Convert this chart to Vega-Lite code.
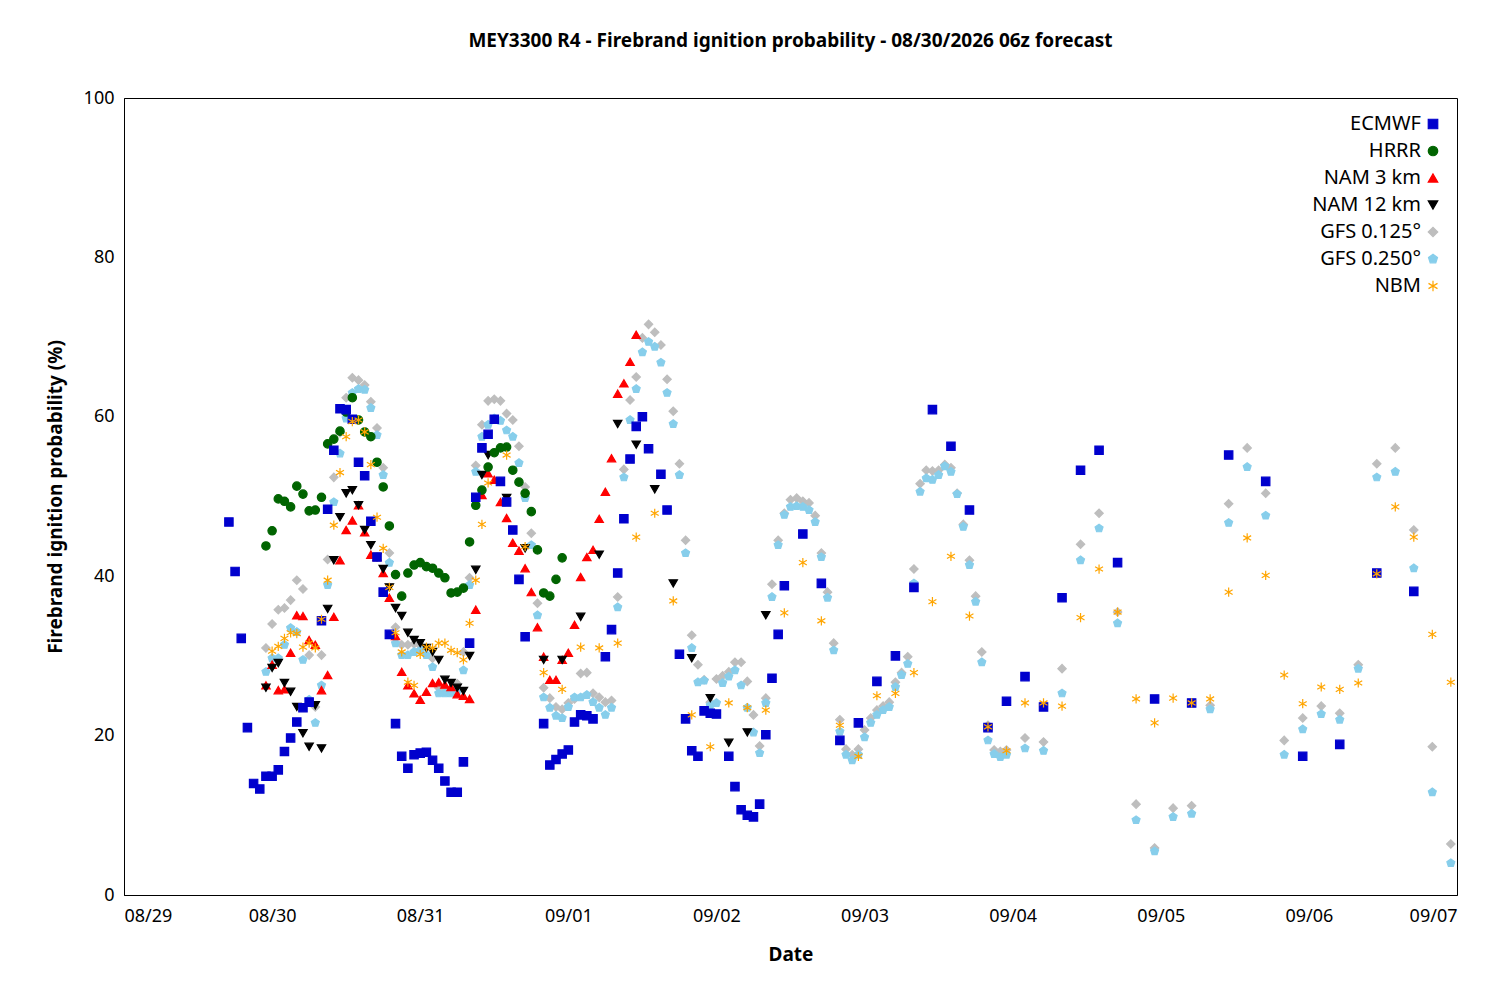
{
"$schema":"https://vega.github.io/schema/vega-lite/v6.json",
"autosize":"none","width":1333,"height":797,
"padding":{"left":124,"top":98,"right":43,"bottom":105},
"background":"white",
"config":{"font":"Noto Sans","view":{"stroke":"black","strokeWidth":1}},
"title":{"text":"MEY3300 R4 - Firebrand ignition probability - 08/30/2026 06z forecast","fontSize":19,"fontWeight":"bold","font":"Noto Sans","offset":38,"color":"black","anchor":"middle","frame":"group"},
"data":{"values":[
{"m":"GFS 0.125°","p":[[23,31],[24,34],[25,35.8],[26,36],[27,37],[28,39.5],[29,38.4],[30,30.1],[31,23.6],[32,30.1],[33,42.1],[34,52.4],[35,58],[36,62.4],[37,64.9],[38,64.6],[39,64],[40,61.9],[41,58.6],[42,53.6],[43,42.9],[44,33.6],[45,31.4],[46,31.4],[47,31.5],[48,31.3],[49,31],[50,29.7],[51,26],[52,25.8],[53,25.8],[54,26.5],[55,30.5],[56,39.8],[57,53.9],[58,59],[59,62],[60,62.2],[61,62],[62,60.4],[63,59.6],[64,56.3],[65,51.2],[66,45.4],[67,36.6],[68,26],[69,24.7],[70,23.6],[71,23.3],[72,24.1],[73,24.6],[74,27.8],[75,27.9],[76,25.3],[77,24.8],[78,24.2],[79,24.4],[80,37.4],[81,53.4],[82,62.1],[83,65],[84,69.9],[85,71.6],[86,70.6],[87,69],[88,64.7],[89,60.7],[90,54.1],[91,44.5],[92,32.6],[93,28.9],[94,27],[95,24.2],[96,27.1],[97,27.5],[98,28],[99,29.2],[100,29.2],[101,26.8],[102,22.6],[103,18.7],[104,24.7],[105,39],[106,44.5],[107,47.9],[108,49.6],[109,49.8],[110,49.4],[111,49.2],[112,47.6],[113,42.9],[114,38],[115,31.6],[116,22],[117,18.3],[118,17.6],[119,18.3],[120,20.7],[121,22.2],[122,23.2],[123,23.7],[124,24.2],[125,26.7],[126,27.9],[127,29.9],[128,40.9],[129,51.6],[130,53.3],[131,53.2],[132,53.3],[133,54],[134,53.6],[135,50.4],[136,46.5],[137,42],[138,37.5],[139,30.5],[140,21.3],[141,18.2],[142,18],[143,18.2],[146,19.7],[149,19.2],[152,28.4],[155,44],[158,47.9],[161,35.5],[164,11.4],[167,5.9],[170,10.9],[173,11.2],[176,23.8],[179,49.1],[182,56.1],[185,50.4],[188,19.4],[191,22.2],[194,23.7],[197,22.8],[200,28.9],[203,54.1],[206,56.1],[209,45.8],[212,18.6],[215,6.4]]},
{"m":"GFS 0.250°","p":[[23,28],[24,29.7],[25,29.7],[26,31.4],[27,33.5],[28,33],[29,29.5],[30,24.5],[31,21.6],[32,26.3],[33,38.9],[34,49.3],[35,55.4],[36,59.8],[37,63],[38,63.5],[39,63.4],[40,61.1],[41,57.7],[42,52.7],[43,41.7],[44,31.6],[45,30.1],[46,30.1],[47,30.5],[48,30.7],[49,30.1],[50,28.6],[51,25.3],[52,25.3],[53,25.3],[54,25.6],[55,28.2],[56,38.9],[57,53.1],[58,57.5],[59,59],[60,59.8],[61,59.5],[62,58.3],[63,57.5],[64,54.2],[65,49.8],[66,43.9],[67,35.1],[68,24.8],[69,23.5],[70,22.5],[71,22.2],[72,23.6],[73,24.8],[74,24.8],[75,25.1],[76,24.2],[77,23.5],[78,22.6],[79,23.5],[80,36.1],[81,52.4],[82,59.6],[83,63.5],[84,68.1],[85,69.4],[86,68.8],[87,66.8],[88,63],[89,59.1],[90,52.7],[91,42.9],[92,31],[93,26.7],[94,26.9],[95,23.8],[96,24.1],[97,26.6],[98,27.4],[99,28.2],[100,26.3],[101,23.5],[102,20.4],[103,17.8],[104,24.1],[105,37.4],[106,43.9],[107,47.7],[108,48.7],[109,48.8],[110,48.7],[111,48.3],[112,46.8],[113,42.4],[114,37.3],[115,30.7],[116,20.5],[117,17.6],[118,16.9],[119,17.6],[120,19.8],[121,21.6],[122,22.6],[123,23.2],[124,23.6],[125,26.1],[126,27.6],[127,29],[128,39.1],[129,50.6],[130,52.3],[131,52.1],[132,52.7],[133,53.8],[134,53.1],[135,50.3],[136,46.2],[137,41.4],[138,36.8],[139,29.2],[140,19.4],[141,17.7],[142,17.3],[143,17.6],[146,18.4],[149,18.1],[152,25.3],[155,42],[158,46],[161,34.1],[164,9.4],[167,5.5],[170,9.8],[173,10.2],[176,23.3],[179,46.7],[182,53.7],[185,47.6],[188,17.6],[191,20.8],[194,22.7],[197,22],[200,28.4],[203,52.4],[206,53.1],[209,41],[212,12.9],[215,4]]},
{"m":"NAM 3 km","p":[[23,26.3],[24,28.9],[25,25.7],[26,25.8],[27,30.4],[28,35.1],[29,35],[30,32],[31,31.4],[32,25.7],[33,27.6],[34,34.9],[35,42],[36,45.8],[37,47],[38,48.9],[39,45.5],[40,42.7],[41,42.4],[42,40.4],[43,37.3],[44,32.5],[45,28],[46,26.3],[47,25.3],[48,24.5],[49,25.5],[50,26.6],[51,26.7],[52,26.4],[53,26.1],[54,25.2],[55,25],[56,24.6],[57,35.8],[58,50.2],[59,52.9],[60,52.1],[61,49.3],[62,47.3],[63,44.2],[64,43.2],[65,41],[66,38],[67,33.6],[68,29.9],[69,27],[70,27],[71,29.5],[72,30.4],[73,33.9],[74,39.9],[75,42.4],[76,43.3],[77,47.2],[78,50.6],[79,54.8],[80,62.9],[81,64.2],[82,66.9],[83,70.3]]},
{"m":"NAM 12 km","p":[[23,26],[24,28.5],[25,29.1],[26,26.6],[27,25.5],[28,23.6],[29,20.3],[30,18.6],[31,23.8],[32,18.4],[33,35.9],[34,42],[35,47.4],[36,50.4],[37,50.8],[38,48.9],[39,45.8],[40,43.9],[41,42.4],[42,40.9],[43,38.6],[44,36],[45,35],[46,32.9],[47,32],[48,31.6],[49,31],[50,30.5],[51,29.5],[52,27],[53,26.6],[54,26],[55,25.6],[56,30],[57,40.8],[58,52.7],[59,55.2],[62,49.8],[65,43.5],[68,29.5],[71,29.5],[74,34.9],[77,42.7],[80,59.1],[83,56.5],[86,50.9],[89,39.1],[92,29.7],[95,24.7],[98,19.1],[101,20.4],[104,35.1]]},
{"m":"HRRR","p":[[23,43.8],[24,45.7],[25,49.7],[26,49.4],[27,48.7],[28,51.3],[29,50.3],[30,48.2],[31,48.3],[32,49.9],[33,56.6],[34,57.2],[35,58.2],[36,60.6],[37,62.4],[38,59.6],[39,58.1],[40,57.5],[41,54.3],[42,51.2],[43,46.3],[44,40.2],[45,37.5],[46,40.4],[47,41.4],[48,41.7],[49,41.2],[50,41],[51,40.4],[52,39.8],[53,37.9],[54,38],[55,38.5],[56,44.3],[57,48.9],[58,50.8],[59,53.7],[60,55.5],[61,56.1],[62,56.2],[63,53.3],[64,51.8],[65,50.4],[66,48.1],[67,43.3],[68,37.9],[69,37.5],[70,39.6],[71,42.3]]},
{"m":"ECMWF","p":[[17,46.8],[18,40.6],[19,32.2],[20,21],[21,14],[22,13.3],[23,14.9],[24,14.9],[25,15.7],[26,18],[27,19.7],[28,21.7],[29,23.5],[30,24.2],[32,34.4],[33,48.4],[34,55.8],[35,61],[36,60.9],[37,59.7],[38,54.3],[39,52.6],[40,46.9],[41,42.4],[42,38],[43,32.7],[44,21.5],[45,17.4],[46,15.9],[47,17.6],[48,17.8],[49,17.9],[50,16.9],[51,15.9],[52,14.3],[53,12.9],[54,12.9],[55,16.7],[56,31.6],[57,49.9],[58,56.1],[59,57.8],[60,59.7],[61,51.9],[62,49.3],[63,45.8],[64,39.6],[65,32.4],[68,21.5],[69,16.3],[70,17],[71,17.7],[72,18.2],[73,21.7],[74,22.6],[75,22.5],[76,22.1],[78,29.9],[79,33.3],[80,40.4],[81,47.2],[82,54.7],[83,58.8],[84,60],[85,56],[87,52.8],[88,48.3],[90,30.2],[91,22.1],[92,18.1],[93,17.4],[94,23.1],[95,22.8],[96,22.7],[98,17.4],[99,13.6],[100,10.7],[101,10],[102,9.8],[103,11.4],[104,20.1],[105,27.2],[106,32.7],[107,38.8],[110,45.3],[113,39.1],[116,19.4],[119,21.6],[122,26.8],[125,30],[128,38.6],[131,60.9],[134,56.3],[137,48.3],[140,21],[143,24.3],[146,27.4],[149,23.6],[152,37.3],[155,53.3],[158,55.8],[161,41.7],[167,24.6],[173,24.1],[179,55.2],[185,51.9],[191,17.4],[197,18.9],[203,40.4],[209,38.1]]},
{"m":"NBM","p":[[24,30.6],[25,31.2],[26,32.2],[27,32.9],[28,32.8],[29,31.1],[30,31.6],[31,31],[32,34.6],[33,39.5],[34,46.4],[35,53],[36,57.5],[37,59.4],[38,59.6],[39,58.1],[40,54],[41,47.4],[42,43.5],[43,38.6],[44,32.9],[45,30.5],[46,26.7],[47,26.3],[48,30.2],[49,31.1],[50,31],[51,31.6],[52,31.6],[53,30.7],[54,30.4],[55,29.5],[56,34.1],[57,39.5],[58,46.5],[59,51.7],[62,55.2],[65,43.7],[68,27.9],[71,25.8],[74,31.1],[77,31],[80,31.6],[83,44.9],[86,47.9],[89,36.9],[92,22.6],[95,18.6],[98,24.1],[101,23.5],[104,23.2],[107,35.4],[110,41.7],[113,34.4],[116,21.3],[119,17.4],[122,25],[125,25.3],[128,27.9],[131,36.8],[134,42.5],[137,35],[140,21.1],[143,18.1],[146,24.1],[149,24.1],[152,23.7],[155,34.8],[158,40.9],[161,35.5],[164,24.6],[167,21.6],[170,24.7],[173,24.1],[176,24.6],[179,38],[182,44.8],[185,40.1],[188,27.6],[191,24],[194,26.1],[197,25.8],[200,26.6],[203,40.3],[206,48.7],[209,44.9],[212,32.7],[215,26.7]]}
]},
"transform":[{"flatten":["p"]}],
"mark":{"type":"point","filled":true,"size":70,"strokeWidth":1.2,"opacity":1,"clip":true},
"encoding":{
"x":{"field":"p[0]","type":"quantitative","scale":{"domain":[0,216],"nice":false,"zero":false},
"axis":{"title":"Date","titleFontSize":19,"titleFontWeight":"bold","titlePadding":20,"labelFontSize":18,"labelPadding":12,"ticks":false,"grid":false,"values":[0,24,48,72,96,120,144,168,192,216],"labelExpr":"timeFormat(datetime(2026,7,29+datum.value/24),'%m/%d')","labelColor":"black","titleColor":"black","domainColor":"black"}},
"y":{"field":"p[1]","type":"quantitative","scale":{"domain":[0,100],"nice":false},
"axis":{"title":"Firebrand ignition probability (%)","titleFontSize":19,"titleFontWeight":"bold","titlePadding":18,"labelFontSize":18,"labelPadding":10,"ticks":false,"grid":false,"values":[0,20,40,60,80,100],"labelColor":"black","titleColor":"black","domainColor":"black"}},
"color":{"field":"m","type":"nominal","scale":{"domain":["ECMWF","HRRR","NAM 3 km","NAM 12 km","GFS 0.125°","GFS 0.250°","NBM"],"range":["#0000cd","#006400","#ff0000","#000000","#bebebe","#87ceeb","#ffa500"]},
"legend":{"title":null,"orient":"top-right","offset":2,"labelFontSize":20,"labelColor":"black","labelAlign":"right","labelOffset":-22,"rowPadding":7,"symbolSize":90,"symbolStrokeWidth":1.2,"padding":14}},
"stroke":{"field":"m","type":"nominal","scale":{"domain":["ECMWF","HRRR","NAM 3 km","NAM 12 km","GFS 0.125°","GFS 0.250°","NBM"],"range":["#0000cd","#006400","#ff0000","#000000","#bebebe","#87ceeb","#ffa500"]}},
"shape":{"field":"m","type":"nominal","scale":{"domain":["ECMWF","HRRR","NAM 3 km","NAM 12 km","GFS 0.125°","GFS 0.250°","NBM"],"range":["square","circle","triangle-up","triangle-down","diamond","M0,-1L0.951,-0.309L0.588,0.809L-0.588,0.809L-0.951,-0.309Z","M0,-1.1L0,1.1M-0.95,-0.55L0.95,0.55M-0.95,0.55L0.95,-0.55"]}}
}
}
